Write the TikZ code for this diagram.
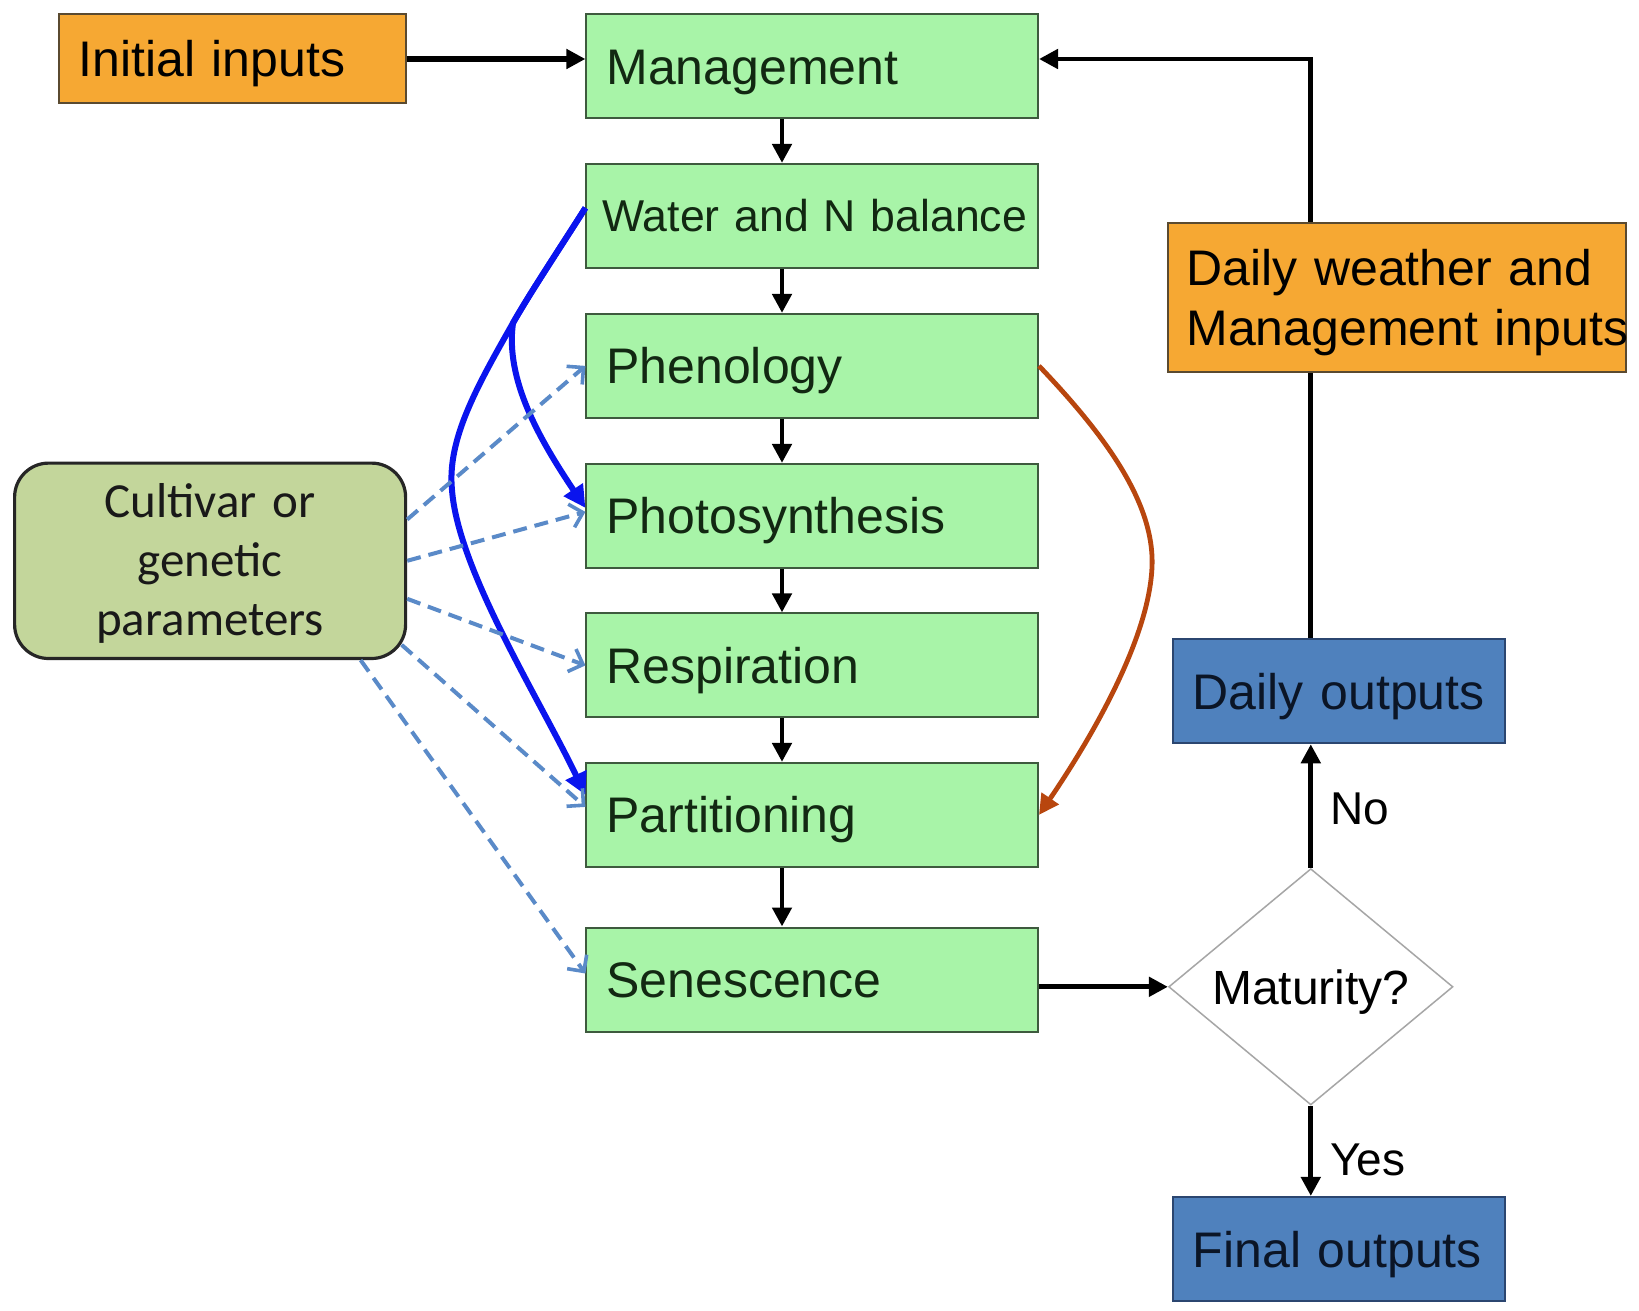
\documentclass[tikz,border=0pt]{standalone}
\usepackage{fontspec}
\setmainfont{Liberation Sans}
\newfontfamily\calfont{Carlito}
\usetikzlibrary{arrows.meta,shapes.geometric,calc}
\definecolor{gfill}{HTML}{A8F4A8}
\definecolor{gline}{HTML}{3E5A3E}
\definecolor{gtext}{HTML}{122812}
\definecolor{ofill}{HTML}{F6A833}
\definecolor{oline}{HTML}{5A4A30}
\definecolor{bfill}{HTML}{4F81BD}
\definecolor{bline}{HTML}{2B4670}
\definecolor{btext}{HTML}{0B1526}
\definecolor{cfill}{HTML}{C3D69B}
\definecolor{dshc}{HTML}{5A8AC8}
\definecolor{bcur}{HTML}{0A14EE}
\definecolor{brc}{HTML}{B8460E}
\begin{document}
\begin{tikzpicture}[x=0.5pt,y=-0.5pt,
  gbox/.style={draw=gline, line width=1pt, fill=gfill, text width=205.8pt, inner xsep=10pt, inner ysep=0pt,
    minimum height=52pt, align=left, font=\fontsize{25}{30}\selectfont, text height=18pt, text depth=0pt, text=gtext},
  obox/.style={draw=oline, line width=1pt, fill=ofill, inner ysep=0pt, align=left, text=black},
  bbox/.style={draw=bline, line width=1pt, fill=bfill, text width=146.15pt, inner xsep=10pt, inner ysep=0pt,
    minimum height=52.25pt, align=left, font=\fontsize{25}{30}\selectfont, text height=18pt, text depth=0pt, text=btext},
  blk/.style={line width=2.4pt, draw=black, -{Triangle[length=9.5pt,width=9.5pt]}},
  bcurve/.style={line width=3pt, draw=bcur, -{Triangle[length=11pt,width=11pt]}},
  brcurve/.style={line width=2.4pt, draw=brc, -{Triangle[length=10pt,width=10pt]}},
  dsh/.style={line width=2pt, draw=dshc, dash pattern=on 7pt off 4pt, -{Straight Barb[length=6pt,width=12pt,line width=1.8pt]}},
  lbl/.style={inner sep=0pt, font=\fontsize{23}{27}\selectfont, text height=16.5pt, text depth=0pt}]
\fill[white] (0,0) rectangle (1639,1311);
\useasboundingbox (0,0) rectangle (1639,1311);

% nodes
\node[obox, text width=153.5pt, inner xsep=10pt, minimum height=44.5pt, font=\fontsize{25}{30}\selectfont, text height=18pt, text depth=0pt] (init) at (232,59) {\mbox{Initial inputs}};
\node[gbox] (mgmt) at (812.2,66.4) {\mbox{Management}};
\node[gbox, font=\fontsize{22.3}{27}\selectfont, inner xsep=8pt, text width=209.8pt, text height=16pt] (water) at (812.2,215.9) {\mbox{Water and N balance}};
\node[gbox] (phen) at (812.2,365.9) {\mbox{Phenology}};
\node[gbox] (photo) at (812.2,515.9) {\mbox{Photosynthesis}};
\node[gbox] (resp) at (812.2,665.4) {\mbox{Respiration}};
\node[gbox] (part) at (812.2,814.9) {\mbox{Partitioning}};
\node[gbox] (sen) at (812.2,979.5) {\mbox{Senescence}};
\node[draw=black!85, line width=1.6pt, fill=cfill, rounded corners=17pt, minimum width=195.5pt, minimum height=97.7pt,
  text width=185pt, inner xsep=5pt, inner ysep=0pt, align=center, font=\calfont\fontsize{24.5}{29.5}\selectfont, text height=15.8pt, text depth=59pt, text=black!90]
  (cult) at (210.1,560.8) {\mbox{Cultivar or}\\\mbox{genetic}\\\mbox{parameters}};
\node[obox, text width=210.65pt, inner xsep=9.4pt, minimum height=74.75pt, font=\fontsize{25}{29.8}\selectfont, text height=18pt, text depth=29.8pt]
  (dw) at (1397,297.3) {\mbox{Daily weather and}\\\mbox{Management inputs}};
\node[bbox] (dout) at (1339,691) {\mbox{Daily outputs}};
\node[bbox] (fout) at (1339,1249.2) {\mbox{Final outputs}};
\node[diamond, draw=gray!70, line width=0.75pt, fill=white, minimum width=142.15pt, minimum height=118.15pt, inner sep=0pt,
  font=\fontsize{24}{28}\selectfont, text height=17.2pt, text depth=0pt] (dia) at (1310.8,986.8) {Maturity?};
\node[lbl, anchor=west] (no) at (1329.6,808) {No};
\node[lbl, anchor=west] (yes) at (1329.6,1159) {Yes};

% black arrows
\coordinate (ax) at (782,0);
\draw[blk, line width=2.8pt] (init.east) -- (init.east -| mgmt.west);
\draw[blk] (mgmt.south -| ax) -- (water.north -| ax);
\draw[blk] (water.south -| ax) -- (phen.north -| ax);
\draw[blk] (phen.south -| ax) -- (photo.north -| ax);
\draw[blk] (photo.south -| ax) -- (resp.north -| ax);
\draw[blk] (resp.south -| ax) -- (part.north -| ax);
\draw[blk] (part.south -| ax) -- (sen.north -| ax);
\draw[blk] (dia.west -| sen.east) -- (dia.west);
\draw[blk] (dia.north) -- (dout.south -| dia.north);
\draw[line width=2.4pt] (dout.north -| dia.north) -- (dw.south -| dia.north);
\draw[blk] (dw.north -| dia.north) |- (init.east -| mgmt.east);
\draw[blk] (dia.south) -- (fout.north -| dia.south);

% blue curves
\draw[bcurve] ($(water.west)+(0,-8)$) .. controls (560,248) and (530,293) .. (513,323) .. controls (476,388) and (447,440) .. (452,490)
  .. controls (458,570) and (540,700) .. ($(part.west)+(0,-20)$);
\draw[bcurve] ($(water.west)+(0,-8)$) .. controls (560,248) and (530,293) .. (513,323) .. controls (505,380) and (540,440) .. ($(photo.west)+(0,-8)$);

% brown curve
\draw[brcurve] (phen.east) .. controls (1100,430) and (1155,500) .. (1152,567)
  .. controls (1149,640) and (1090,740) .. (part.east);

% dashed arrows
\draw[dsh] ($(cult.east)+(0,-41.3)$) -- (phen.west);
\draw[dsh] (cult.east) -- ($(photo.west)+(0,-4)$);
\draw[dsh] ($(cult.east)+(0,38)$) -- (resp.west);
\draw[dsh] ($(cult.east)+(-5.6,84)$) -- ($(part.west)+(0,-8)$);
\draw[dsh] ($(cult.south)+(150.5,0)$) -- ($(sen.west)+(0,-6)$);
\end{tikzpicture}
\end{document}
